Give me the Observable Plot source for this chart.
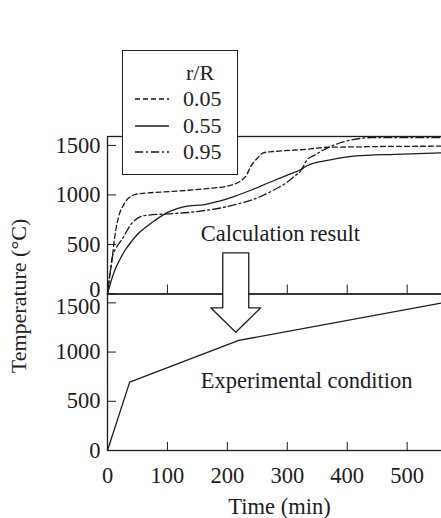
<!DOCTYPE html>
<html>
<head>
<meta charset="utf-8">
<script src="https://cdn.jsdelivr.net/npm/d3@7"></script>
<script src="https://cdn.jsdelivr.net/npm/@observablehq/plot@0.6"></script>
<style>
  html, body { margin: 0; padding: 0; background: #fff; overflow: hidden; }
  #chart {
    position: relative; width: 441px; height: 518px; overflow: hidden;
    font-family: "Liberation Serif", "Times New Roman", serif; color: #222;
  }
  #top, #bottom { position: absolute; left: 0; }
  #top { top: 0; z-index: 1; }
  #bottom { top: 240px; z-index: 2; }
  #legend {
    position: absolute; left: 122px; top: 50px; width: 116px; height: 125px;
    box-sizing: border-box; border: 1.4px solid #222; background: #fff; z-index: 3;
    font-size: 22px;
  }
  #legend .row { position: absolute; line-height: 22px; height: 22px; white-space: nowrap; }
  #legend svg { position: absolute; }
  #ylabel {
    position: absolute; left: 19px; top: 296px; z-index: 3;
    transform: translate(-50%, -50%) rotate(-90deg);
    white-space: nowrap; font-size: 22px; line-height: 22px;
  }
</style>
</head>
<body>
<div id="chart">
  <div id="top"></div>
  <div id="bottom"></div>
  <div id="legend"></div>
  <div id="ylabel">Temperature (°C)</div>
</div>
<script>
// Calculated temperature histories at three radial positions r/R
const timeR005 = [0, 3, 6.7, 12, 20, 27, 34, 51, 107, 162, 200, 222, 232, 239, 250, 261, 280, 322, 372, 411, 470, 557];
const tempR005 = [0, 150, 304, 573, 810, 900, 961, 1011, 1035, 1062, 1090, 1140, 1200, 1287, 1370, 1428, 1440, 1456, 1482, 1485, 1490, 1492];

const timeR055 = [0, 5, 12, 20, 29, 40, 51, 65, 79, 101, 115, 129, 162, 185, 211, 240, 267, 300, 322, 333, 344, 372, 411, 480, 557];
const tempR055 = [0, 110, 237, 340, 439, 530, 608, 680, 742, 826, 860, 883, 903, 935, 984, 1050, 1118, 1200, 1254, 1295, 1320, 1355, 1391, 1410, 1425];

const timeR095 = [0, 4, 8, 14, 23, 40, 62, 101, 139, 162, 190, 222, 250, 283, 300, 311, 322, 333, 345, 372, 411, 440, 557];
const tempR095 = [0, 200, 371, 460, 540, 709, 792, 809, 825, 843, 870, 917, 970, 1068, 1130, 1186, 1240, 1355, 1400, 1489, 1560, 1578, 1578];

// Furnace schedule used in the experiment
const timeExp = [0, 37, 219, 557];
const tempExp = [0, 695, 1118, 1497];

const seriesNames = ["0.05", "0.55", "0.95"];
const seriesDash = ["5,3", null, "8,3,2,3"];
const legendTitle = "r/R";

const xTicks = [0, 100, 200, 300, 400, 500];
const yTicks = [0, 500, 1000, 1500];
const X_MAX = 574;
const Y_MAX = 1590;

const calcLabel = "Calculation result";
const calcLabelTime = 155.5, calcLabelTemp = 611;
const expLabel = "Experimental condition";
const expLabelTime = 155.5, expLabelTemp = 711;

// Hollow arrow linking the two panels (time in min, temperature on the lower panel's scale)
const arrowTime = 214, arrowShaftHalf = 21.7, arrowHeadHalf = 41.7;
const arrowTop = 2008, arrowNeck = 1450, arrowTip = 1202;

const INK = "#1c1c1c";
const FONT = "22.5px";

const series = [
  {name: seriesNames[0], dash: seriesDash[0], t: timeR005, T: tempR005},
  {name: seriesNames[1], dash: seriesDash[1], t: timeR055, T: tempR055},
  {name: seriesNames[2], dash: seriesDash[2], t: timeR095, T: tempR095}
];
const calcRows = series.flatMap(s => s.t.map((t, i) => ({r: s.name, t, T: s.T[i]})));
const expRows = timeExp.map((t, i) => ({t, T: tempExp[i]}));

const arrowRows = [
  [arrowTime - arrowShaftHalf, arrowTop],
  [arrowTime + arrowShaftHalf, arrowTop],
  [arrowTime + arrowShaftHalf, arrowNeck],
  [arrowTime + arrowHeadHalf, arrowNeck],
  [arrowTime, arrowTip],
  [arrowTime - arrowHeadHalf, arrowNeck],
  [arrowTime - arrowShaftHalf, arrowNeck],
  [arrowTime - arrowShaftHalf, arrowTop]
].map(([t, T]) => ({t, T}));

// Where the two panels meet, the neighbouring labels are nudged apart
const yMin = yTicks[0], yTop = yTicks[yTicks.length - 1];
const labelUnless = v => d => (d === v ? "" : String(d));

const common = {
  width: 451,
  marginLeft: 107,
  marginRight: 0,
  x: {domain: [0, X_MAX]},
  y: {domain: [0, Y_MAX]},
  style: {
    fontFamily: '"Liberation Serif", "Times New Roman", serif',
    fontSize: FONT, color: INK, background: "transparent",
    overflow: "visible", maxWidth: "none"
  }
};

const topPlot = Plot.plot({
  ...common,
  height: 300,
  marginTop: 136,
  marginBottom: 6.5,
  marks: [
    ...series.map(s => Plot.line(calcRows.filter(d => d.r === s.name), {
      x: "t", y: "T", stroke: INK, strokeWidth: 1.3,
      strokeDasharray: s.dash, curve: "monotone-x"
    })),
    Plot.text([calcLabel], {
      x: () => calcLabelTime, y: () => calcLabelTemp, text: d => d,
      textAnchor: "start", lineAnchor: "middle", fill: INK
    }),
    Plot.frame({stroke: INK, strokeWidth: 1.3}),
    Plot.axisY({ticks: yTicks, tickFormat: labelUnless(yMin), tickSize: -9, tickPadding: 16, label: null, stroke: INK}),
    Plot.axisY({ticks: [yMin], tickFormat: "d", tickSize: 0, tickPadding: 7, dy: -4, label: null}),
    Plot.axisX({ticks: xTicks, tickSize: -9, tickFormat: () => "", label: null, stroke: INK})
  ]
});

const bottomPlot = Plot.plot({
  ...common,
  height: 278,
  marginTop: 53.5,
  marginBottom: 68,
  marks: [
    Plot.line(expRows, {x: "t", y: "T", stroke: INK, strokeWidth: 1.3}),
    Plot.text([expLabel], {
      x: () => expLabelTime, y: () => expLabelTemp, text: d => d,
      textAnchor: "start", lineAnchor: "middle", fill: INK
    }),
    Plot.frame({stroke: INK, strokeWidth: 1.3}),
    Plot.axisY({ticks: yTicks, tickFormat: labelUnless(yTop), tickSize: -9, tickPadding: 16, label: null, stroke: INK}),
    Plot.axisY({ticks: [yTop], tickFormat: "d", tickSize: 0, tickPadding: 7, dy: 4, label: null}),
    Plot.axisX({
      ticks: xTicks, tickFormat: "d", tickSize: -8, tickPadding: 25, stroke: INK,
      label: "Time (min)", labelAnchor: "center", labelArrow: "none", labelOffset: 63
    }),
    Plot.line(arrowRows, {x: "t", y: "T", fill: "white", stroke: INK, strokeWidth: 1.3})
  ]
});

document.getElementById("top").append(topPlot);
document.getElementById("bottom").append(bottomPlot);

// Legend: header and one row per radial position
const legend = document.getElementById("legend");
const head = document.createElement("div");
head.className = "row";
head.style.left = "63px";
head.style.top = "11px";
head.textContent = legendTitle;
legend.append(head);
series.forEach((s, i) => {
  const cy = 48 + i * 26.5;
  const sw = d3.create("svg").attr("width", 34).attr("height", 6)
    .style("left", "12px").style("top", (cy - 3) + "px");
  sw.append("line").attr("x1", 0).attr("x2", 34).attr("y1", 3).attr("y2", 3)
    .attr("stroke", INK).attr("stroke-width", 1.3)
    .attr("stroke-dasharray", s.dash);
  legend.append(sw.node());
  const lab = document.createElement("div");
  lab.className = "row";
  lab.style.left = "60px";
  lab.style.top = (cy - 11) + "px";
  lab.textContent = s.name;
  legend.append(lab);
});
</script>
</body>
</html>
